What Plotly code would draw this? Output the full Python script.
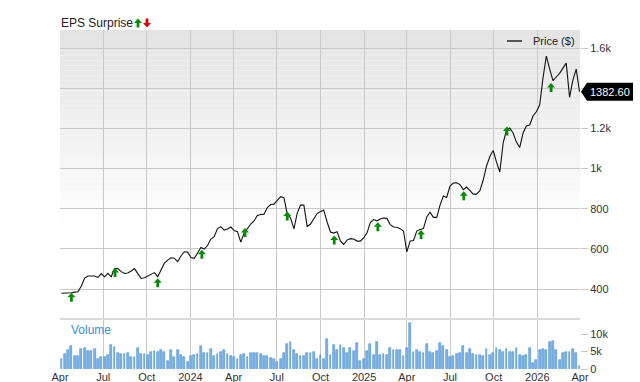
import pandas as pd
import plotly.graph_objects as go

# ---------------- data ----------------
dates = pd.date_range(end="2026-03-31", periods=157, freq="7D")

price = [379, 379, 379, 382, 385, 387, 415, 455, 465, 465,
         465, 458, 477, 461, 478, 461, 502, 502, 487, 478,
         480, 490, 502, 477, 453, 456, 465, 475, 482, 462,
         495, 529, 544, 556, 554, 537, 565, 586, 584, 557,
         553, 579, 607, 599, 617, 649, 661, 701, 711, 694,
         699, 709, 691, 686, 634, 679, 704, 724, 739, 766,
         771, 773, 806, 821, 823, 841, 860, 855, 773, 754,
         700, 778, 818, 818, 712, 724, 751, 776, 786, 793,
         734, 684, 679, 686, 640, 622, 644, 651, 649, 639,
         639, 655, 679, 731, 746, 740, 749, 754, 752, 721,
         709, 708, 701, 689, 585, 640, 642, 689, 697, 701,
         759, 783, 757, 757, 818, 863, 856, 913, 928, 929,
         920, 895, 908, 893, 873, 873, 890, 943, 1013, 1060,
         1090, 1032, 983, 1127, 1192, 1202, 1177, 1132, 1105, 1177,
         1212, 1217, 1262, 1283, 1316, 1451, 1560, 1496, 1438, 1456,
         1474, 1500, 1525, 1355, 1440, 1495, 1382.60]

volume_k = [3.0, 4.2, 5.4, 6.6, 3.7, 3.7, 5.7, 5.9, 5.2, 5.1,
            5.7, 3.0, 3.5, 3.5, 4.0, 7.0, 6.4, 4.7, 4.3, 4.2,
            4.5, 3.5, 3.5, 6.1, 4.3, 4.2, 4.0, 4.8, 5.2, 5.0,
            5.4, 4.8, 2.4, 5.4, 3.5, 5.4, 4.0, 3.3, 2.1,
            3.6, 4.1, 4.3, 6.7, 4.7, 4.7, 5.8, 3.6, 4.2, 4.8,
            5.5, 4.3, 3.6, 3.3, 2.9, 4.1, 4.3, 3.3, 4.7, 4.5,
            4.5, 4.2, 3.6, 3.6, 3.1, 2.8,
            1.9, 2.9, 4.7, 7.1, 7.6, 5.5, 4.3, 3.8, 3.8, 4.7, 4.5, 5.0, 2.9,
            4.1, 2.9, 8.6, 4.1, 6.9, 5.5, 6.9, 5.9, 4.5, 5.9,
            5.2, 7.4, 2.4, 2.9, 5.2, 7.1, 4.1, 7.6, 4.1, 4.2,
            3.9, 5.9, 5.5, 5.3, 5.3, 3.6, 6.1, 13.2, 4.8, 5.5,
            4.8, 4.5, 7.2, 4.8, 4.7, 5.2, 7.5, 6.6, 5.3, 3.3,
            3.8, 4.2, 4.7, 6.6, 4.5, 5.7, 4.3, 3.9, 4.1, 3.8,
            5.7, 3.9, 4.7, 5.9, 5.3, 4.8, 5.7, 5.0, 5.0, 5.9,
            3.9, 3.6, 4.1, 5.9, 1.7, 2.5, 5.3, 5.8, 5.3, 7.7,
            8.0, 5.5, 2.5, 4.5, 4.8, 5.0, 5.7, 4.5, 0.8]
volume = [v * 1000 for v in volume_k]

eps_dates = ["2023-04-25", "2023-07-26", "2023-10-24", "2024-01-25",
             "2024-04-25", "2024-07-23", "2024-10-30", "2025-01-30",
             "2025-05-01", "2025-07-30", "2025-10-29", "2026-01-30"]
eps_level = [359, 483, 431, 574, 682, 764, 644, 710, 672, 865, 1187, 1404]

tick_dates = ["2023-04-01", "2023-07-01", "2023-10-01", "2024-01-01",
              "2024-04-01", "2024-07-01", "2024-10-01", "2025-01-01",
              "2025-04-01", "2025-07-01", "2025-10-01", "2026-01-01",
              "2026-04-01"]
tick_text = ["Apr", "Jul", "Oct", "2024", "Apr", "Jul", "Oct", "2025",
             "Apr", "Jul", "Oct", "2026", "Apr"]

price_ticks = [400, 600, 800, 1000, 1200, 1400, 1600]
price_tick_text = ["400", "600", "800", "1k", "1.2k", "", "1.6k"]
vol_ticks = [0, 5000, 10000]
vol_tick_text = ["0", "5k", "10k"]

# ---------------- layout geometry ----------------
W, H = 640, 382
def px(x):
    return x / W
def py(y):
    return (H - y) / H

FONT = "Liberation Sans, Arial, sans-serif"
GRID = "#c8c8c8"
GREEN = "#0a8a0a"
RED = "#e00000"
UP_ARROW = "M0,4.5 L4,0 L1.4,0 L1.4,-4.5 L-1.4,-4.5 L-1.4,0 L-4,0 Z"
DOWN_ARROW = "M0,-4.5 L4,0 L1.4,0 L1.4,4.5 L-1.4,4.5 L-1.4,0 L-4,0 Z"

fig = go.Figure()

fig.add_trace(go.Scatter(x=dates, y=price, mode="lines",
                         line=dict(color="#111111", width=1.1),
                         xaxis="x", yaxis="y", showlegend=False,
                         hoverinfo="skip"))

fig.add_trace(go.Bar(x=dates, y=volume, xaxis="x2", yaxis="y2",
                     marker=dict(color="#7db3e4",
                                 line=dict(color="#4a8fd2", width=0.6)),
                     width=1000 * 60 * 60 * 24 * 3.8,
                     showlegend=False, hoverinfo="skip"))

xr = ["2023-04-01", "2026-04-01"]
xdom = [px(60), px(580)]

fig.update_layout(
    template="none",
    width=W, height=H, autosize=False,
    margin=dict(l=0, r=0, t=0, b=0, pad=0),
    paper_bgcolor="white", plot_bgcolor="rgba(0,0,0,0)",
    font=dict(family=FONT, size=11, color="#333333"),
    bargap=0,
    xaxis=dict(domain=xdom, range=xr, type="date", anchor="y",
               tickvals=tick_dates, showticklabels=False, ticks="",
               showgrid=True, gridcolor=GRID, gridwidth=1,
               zeroline=False, showline=False, automargin=False),
    yaxis=dict(domain=[py(318), py(30)], range=[256, 1690], side="right",
               anchor="x", tickvals=price_ticks, ticktext=price_tick_text,
               showgrid=True, gridcolor=GRID, gridwidth=1,
               ticks="outside", ticklen=7, tickcolor=GRID, tickwidth=1,
               zeroline=False, showline=False, automargin=False,
               tickfont=dict(size=11, color="#333333")),
    xaxis2=dict(domain=xdom, range=xr, type="date", anchor="y2",
                matches="x", tickvals=tick_dates, ticktext=tick_text,
                showgrid=True, gridcolor=GRID, gridwidth=1, ticks="",
                zeroline=False, showline=False, automargin=False,
                tickfont=dict(size=11, color="#333333")),
    yaxis2=dict(domain=[py(369), py(320)], range=[0, 14000], side="right",
                anchor="x2", tickvals=vol_ticks, ticktext=vol_tick_text,
                showgrid=False, ticks="outside", ticklen=7, tickcolor=GRID,
                tickwidth=1, zeroline=False, showline=False, automargin=False,
                tickfont=dict(size=11, color="#333333")),
)

shapes = []
# gradient background of price panel
n = 40
top_frac = 0.30
for i in range(n):
    f0 = 1 - (i + 1) / n * (1 - top_frac)
    f1 = 1 - i / n * (1 - top_frac)
    t = (i + 0.5) / n
    c = int(round(0xe3 + (0xff - 0xe3) * t))
    shapes.append(dict(type="rect", xref="x domain", yref="y domain",
                       x0=0, x1=1, y0=f0, y1=f1, layer="below",
                       line=dict(width=0), fillcolor=f"rgb({c},{c},{c})"))
# separator between panels
shapes.append(dict(type="line", xref="paper", yref="paper",
                   x0=px(60), x1=px(580), y0=py(319), y1=py(319),
                   line=dict(color="#dadada", width=2), layer="below"))
# legend line sample
shapes.append(dict(type="line", xref="paper", yref="paper",
                   x0=px(507), x1=px(522), y0=py(41), y1=py(41),
                   line=dict(color="#555555", width=2)))
# EPS surprise arrows (anchored on the earnings data)
for d, lvl in zip(eps_dates, eps_level):
    shapes.append(dict(type="path", xref="x", yref="y",
                       xsizemode="pixel", ysizemode="pixel",
                       xanchor=d, yanchor=lvl, path=UP_ARROW,
                       fillcolor=GREEN, line=dict(width=0)))
# legend arrows next to "EPS Surprise"
shapes.append(dict(type="path", xref="paper", yref="paper",
                   xsizemode="pixel", ysizemode="pixel",
                   xanchor=px(138), yanchor=py(23), path=UP_ARROW,
                   fillcolor=GREEN, line=dict(width=0)))
shapes.append(dict(type="path", xref="paper", yref="paper",
                   xsizemode="pixel", ysizemode="pixel",
                   xanchor=px(147), yanchor=py(23), path=DOWN_ARROW,
                   fillcolor=RED, line=dict(width=0)))
# last price badge
shapes.append(dict(type="path", xref="paper", yref="y",
                   xsizemode="pixel", ysizemode="pixel",
                   xanchor=px(580), yanchor=price[-1],
                   path="M1,0 L7,9 L53,9 L53,-9 L7,-9 Z",
                   fillcolor="black", line=dict(width=0)))
fig.update_layout(shapes=shapes)

annotations = [
    dict(text="EPS Surprise", xref="paper", yref="paper", x=px(59), y=py(23),
         xanchor="left", yanchor="middle", showarrow=False,
         font=dict(size=12, color="#222222")),
    dict(text="Price ($)", xref="paper", yref="paper", x=px(531), y=py(41),
         xanchor="left", yanchor="middle", showarrow=False,
         font=dict(size=11, color="#222222")),
    dict(text="Volume", xref="paper", yref="paper", x=px(69), y=py(330),
         xanchor="left", yanchor="middle", showarrow=False,
         font=dict(size=12, color="#3a8fd8")),
    dict(text=f"{price[-1]:.2f}", xref="paper", yref="y", x=px(609.5),
         y=price[-1], xanchor="center", yanchor="middle", showarrow=False,
         font=dict(size=11, color="white")),
]
fig.update_layout(annotations=annotations)

fig.write_html("out.html", config={"displayModeBar": False})
